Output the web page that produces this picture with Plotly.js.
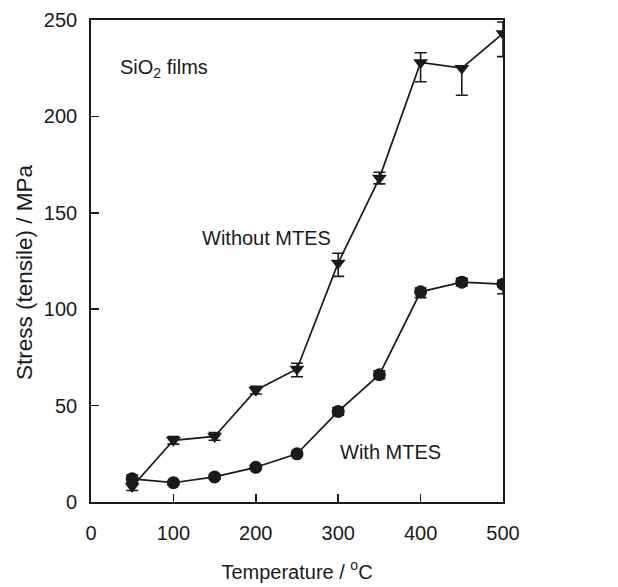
<!DOCTYPE html>
<html><head><meta charset="utf-8">
<script src="https://cdn.plot.ly/plotly-3.0.1.min.js"></script>
<style>html,body{margin:0;padding:0;background:#fff}#chart{width:618px;height:587px}</style>
</head><body><div id="chart"></div>
<script>
const temperature = [50, 100, 150, 200, 250, 300, 350, 400, 450, 500];
const withoutMTES = [8, 32, 34, 58, 69, 124, 168, 228, 225, 243];
const withoutErrPlus = [2, 2, 2, 2, 3, 5, 3, 5, 1, 6];
const withoutErrMinus = [2, 2, 2, 2, 4, 7, 3, 10, 14, 12];
const withMTES = [12, 10, 13, 18, 25, 47, 66, 109, 114, 113];
const withErrPlus = [2, 1, 1, 1, 1, 2, 2, 2, 2, 2];
const withErrMinus = [2, 1, 1, 1, 1, 2, 2, 3, 2, 5];
const xTicks = [0, 100, 200, 300, 400, 500];
const yTicks = [0, 50, 100, 150, 200, 250];

const ink = '#1a1a1a';
const font = {family: 'Liberation Sans, Arial, sans-serif', size: 20, color: ink};

const traces = [
  {x: temperature, y: withoutMTES, mode: 'lines+markers', type: 'scatter',
   line: {color: ink, width: 1.7},
   marker: {symbol: 'triangle-down', size: 13, color: ink},
   error_y: {type: 'data', symmetric: false, array: withoutErrPlus, arrayminus: withoutErrMinus,
             color: ink, thickness: 1.6, width: 6}},
  {x: temperature, y: withMTES, mode: 'lines+markers', type: 'scatter',
   line: {color: ink, width: 1.7},
   marker: {symbol: 'circle', size: 13, color: ink},
   error_y: {type: 'data', symmetric: false, array: withErrPlus, arrayminus: withErrMinus,
             color: ink, thickness: 1.6, width: 6}}
];

const layout = {
  width: 618, height: 587,
  margin: {l: 91, r: 115, t: 20, b: 85},
  paper_bgcolor: '#fff', plot_bgcolor: '#fff',
  showlegend: false,
  font: font,
  xaxis: {range: [0, 500], tickvals: xTicks, ticks: 'inside', ticklen: 8, tickwidth: 1.5,
          tickcolor: ink, showline: true, linecolor: ink, linewidth: 1.8, mirror: true,
          showgrid: false, zeroline: false, ticklabelstandoff: 12,
          title: {text: 'Temperature / <sup>o</sup>C', font: font, standoff: 22}},
  yaxis: {range: [0, 250], tickvals: yTicks, ticks: 'inside', ticklen: 8, tickwidth: 1.5,
          tickcolor: ink, showline: true, linecolor: ink, linewidth: 1.8, mirror: true,
          showgrid: false, zeroline: false, ticklabelstandoff: 8},
  annotations: [
    {x: -0.163, y: 0.477, xref: 'paper', yref: 'paper', text: 'Stress (tensile) / MPa', textangle: -90,
     showarrow: false, xanchor: 'center', yanchor: 'middle', font: {family: font.family, size: 22.5, color: ink}},
    {x: 33, y: 225, xref: 'x', yref: 'y', text: 'SiO<sub>2</sub> films', showarrow: false, xanchor: 'left', font: font},
    {x: 213, y: 137, xref: 'x', yref: 'y', text: 'Without MTES', showarrow: false, font: font},
    {x: 363, y: 26, xref: 'x', yref: 'y', text: 'With MTES', showarrow: false, font: font}
  ]
};

Plotly.newPlot('chart', traces, layout, {displayModeBar: false, staticPlot: true});
</script></body></html>
